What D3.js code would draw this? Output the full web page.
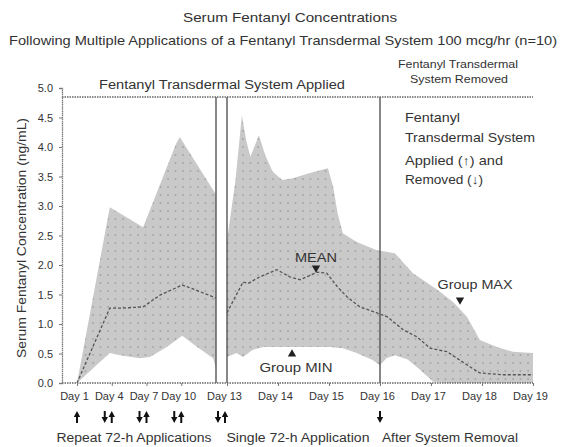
<!DOCTYPE html>
<html>
<head>
<meta charset="utf-8">
<script src="https://cdn.jsdelivr.net/npm/d3@7"></script>
<style>
  body { margin: 0; background: #fff; }
  svg { display: block; }
  text { font-family: "Liberation Sans Narrow", "Arial Narrow", "Liberation Sans", sans-serif; fill: #333; }
</style>
</head>
<body>
<svg id="chart" width="561" height="447"></svg>
<script>
// Hours since first application; Day 1 = 0 h
const dayLabels = ['Day 1', 'Day 4', 'Day 7', 'Day 10', 'Day 13', 'Day 14', 'Day 15', 'Day 16', 'Day 17', 'Day 18', 'Day 19'];
const dayHours  = [0, 72, 144, 216, 288, 312, 336, 360, 384, 408, 432];
const yTicks = [0, 0.5, 1, 1.5, 2, 2.5, 3, 3.5, 4, 4.5, 5];

const applyHours  = [0, 72, 144, 216, 288];
const removeHours = [72, 144, 216, 288, 360];

// Repeat 72-h applications (Day 1 - Day 13), [hour, ng/mL]
const repeatMean = [[0, 0], [68, 1.27], [93, 1.27], [137, 1.29], [172, 1.49], [218, 1.66], [245, 1.58], [288, 1.44]];
const repeatMax  = [[0, 0], [68, 2.98], [137, 2.64], [205, 4.05], [213, 4.17], [222, 4.05], [286, 3.22], [288, 3.22]];
const repeatMin  = [[0, 0], [52, 0.39], [68, 0.51], [89, 0.47], [130, 0.42], [151, 0.44], [186, 0.61], [218, 0.80], [249, 0.61], [282, 0.42], [288, 0.25]];

// Single 72-h application and after removal (Day 13 - Day 19)
const singleMean = [[288, 1.19], [295.5, 1.71], [298, 1.69], [303.5, 1.80], [311.5, 1.92], [317.5, 1.80], [322.5, 1.75], [330.5, 1.88],
  [335, 1.86], [340, 1.63], [344.5, 1.46], [350.5, 1.29], [358.5, 1.19], [363.5, 1.12], [371, 0.90], [377.5, 0.78], [383.5, 0.59],
  [391.5, 0.53], [397.5, 0.39], [402.5, 0.27], [407, 0.17], [418, 0.14], [432, 0.14]];
const singleMax  = [[288, 2.41], [292, 3.44], [295, 4.54], [297, 4.12], [299, 3.83], [303, 4.20], [306, 3.86], [309.5, 3.58],
  [314, 3.44], [319, 3.47], [327, 3.56], [335.5, 3.64], [338, 3.32], [340, 2.88], [342.5, 2.54], [349, 2.39], [358.5, 2.25],
  [367, 2.20], [375.5, 1.86], [387, 1.58], [394.5, 1.37], [401, 1.12], [407, 0.73], [415, 0.61], [422.5, 0.53], [432, 0.51]];
const singleMin  = [[288, 0.44], [292.5, 0.51], [295.5, 0.44], [300, 0.56], [305, 0.61], [317.5, 0.61], [336.5, 0.61], [342.5, 0.59],
  [349, 0.51], [356.5, 0.39], [360, 0.30], [363, 0.42], [367, 0.47], [373, 0.40], [379, 0.22], [385, 0.02], [390, 0], [432, 0]];

const svg = d3.select('#chart');
const W = 561, H = 447;

// two panels share the Day 13 break
const xA = d3.scaleLinear().domain([0, 288]).range([77, 216]);
const xB = d3.scaleLinear().domain([288, 432]).range([227, 533]);
const y = d3.scaleLinear().domain([0, 5]).range([383, 88]);
const plotLeft = 62, plotRight = 533, plotTop = 97;

svg.append('rect').attr('width', W).attr('height', H).attr('fill', '#fff');

// dotted grey fill
const defs = svg.append('defs');
const pat = defs.append('pattern').attr('id', 'dots')
    .attr('patternUnits', 'userSpaceOnUse').attr('width', 7.5).attr('height', 8);
pat.append('rect').attr('width', 7.5).attr('height', 8).attr('fill', '#c9c9c9');
pat.append('circle').attr('cx', 3).attr('cy', 3).attr('r', 0.75).attr('fill', '#888');

function band(x, maxS, minS) {
    const line = d3.line().x(d => x(d[0])).y(d => y(d[1]));
    return line(maxS.concat(minS.slice().reverse())) + 'Z';
}

svg.append('path').attr('d', band(xA, repeatMax, repeatMin)).attr('fill', 'url(#dots)');
svg.append('path').attr('d', band(xB, singleMax, singleMin)).attr('fill', 'url(#dots)');

const meanLine = x => d3.line().x(d => x(d[0])).y(d => y(d[1]));
[[xA, repeatMean], [xB, singleMean]].forEach(([x, s]) => {
    svg.append('path').attr('d', meanLine(x)(s))
        .attr('fill', 'none').attr('stroke', '#555').attr('stroke-width', 1.3)
        .attr('stroke-dasharray', '3,2');
});

// frame lines
const dotted = sel => sel.attr('stroke', '#666').attr('stroke-width', 1.3).attr('stroke-dasharray', '1.5,1');
dotted(svg.append('line').attr('x1', plotLeft).attr('x2', plotRight).attr('y1', plotTop).attr('y2', plotTop));
dotted(svg.append('line').attr('x1', plotLeft).attr('x2', plotRight).attr('y1', y(0)).attr('y2', y(0)));
[xA(288), xB(288), xB(360)].forEach(px => {
    svg.append('line').attr('x1', px).attr('x2', px).attr('y1', plotTop).attr('y2', y(0))
        .attr('stroke', '#555').attr('stroke-width', 1.4);
});

// y axis
const yAxis = svg.append('g').attr('transform', `translate(${plotLeft},0)`)
    .call(d3.axisLeft(y).tickValues(yTicks).tickFormat(d3.format('.1f')).tickSize(3).tickPadding(6));
yAxis.select('.domain').attr('stroke', '#777').attr('stroke-width', 1.3).attr('stroke-dasharray', '1.5,0.6');
yAxis.selectAll('.tick line').attr('stroke', '#777');
yAxis.selectAll('text').attr('font-size', 11).attr('fill', '#555')
    .style('font-family', '"Liberation Sans Narrow", "Liberation Sans", sans-serif');

// x axes
const labelOf = h => dayLabels[dayHours.indexOf(h)];
[[xA, dayHours.filter(h => h < 288)], [xB, dayHours.filter(h => h >= 288)]].forEach(([x, vals]) => {
    const g = svg.append('g').attr('transform', `translate(0,${y(0)})`)
        .call(d3.axisBottom(x).tickValues(vals).tickFormat(labelOf).tickSize(3).tickPadding(6));
    g.select('.domain').remove();
    g.selectAll('.tick line').attr('stroke', '#777');
    g.selectAll('text').attr('font-size', 11).attr('fill', '#333').attr('dx', -3)
        .style('font-family', '"Liberation Sans Narrow", "Liberation Sans", sans-serif');
});

// application / removal arrows
const arrowX = h => h < 288 ? xA(h) : (h === 288 ? xB(h) - 2 : xB(h));
const arrowG = svg.append('g').attr('fill', '#111');
applyHours.forEach(h => {
    const ax = arrowX(h);
    arrowG.append('path').attr('d', `M${ax - 1},423 V417 H${ax - 3.2} L${ax},411 L${ax + 3.2},417 H${ax + 1} V423 Z`);
});
removeHours.forEach(h => {
    const ax = arrowX(h) - (h === 360 ? 0 : 7);
    arrowG.append('path').attr('d', `M${ax - 1},411 V417 H${ax - 3.2} L${ax},423 L${ax + 3.2},417 H${ax + 1} V411 Z`);
});

// texts
function txt(s, x0, y0, size, len, anchor) {
    const t = svg.append('text').attr('x', x0).attr('y', y0).attr('font-size', size)
        .attr('text-anchor', anchor || 'middle').text(s);
    if (len) t.attr('textLength', len).attr('lengthAdjust', 'spacingAndGlyphs');
    return t;
}

txt('Serum Fentanyl Concentrations', 290, 22, 13, 214);
txt('Following Multiple Applications of a Fentanyl Transdermal System 100 mcg/hr (n=10)', 283, 45, 13, 548);
txt('Fentanyl Transdermal System Applied', 222, 89, 12.5, 246);
txt('Fentanyl Transdermal', 458, 68, 11, 120);
txt('System Removed', 459, 83, 11.5, 98);

txt('Fentanyl', 405, 122, 13, 55, 'start');
txt('Transdermal System', 405, 142, 13, 130, 'start');
txt('Applied (\u2191) and', 405, 165, 13, 98, 'start');
txt('Removed (\u2193)', 405, 184, 13, 78, 'start');

svg.append('text').attr('transform', 'translate(26,238) rotate(-90)')
    .attr('text-anchor', 'middle').attr('font-size', 12)
    .attr('textLength', 240).attr('lengthAdjust', 'spacingAndGlyphs')
    .text('Serum Fentanyl Concentration (ng/mL)');

txt('Repeat 72-h Applications', 134, 442, 12.5, 155);
txt('Single 72-h Application', 298, 442, 12.5, 143);
txt('After System Removal', 450, 442, 12.5, 136);

// series callouts
txt('MEAN', 316, 262, 12, 42);
txt('Group MIN', 296, 372, 12, 73);
txt('Group MAX', 475, 289, 12, 75);
const tri = d3.symbol().type(d3.symbolTriangle).size(30);
svg.append('path').attr('d', tri()).attr('fill', '#222').attr('transform', 'translate(316,268) rotate(180)');
svg.append('path').attr('d', tri()).attr('fill', '#222').attr('transform', 'translate(292,354)');
svg.append('path').attr('d', tri()).attr('fill', '#222').attr('transform', 'translate(460,300) rotate(180)');
</script>
</body>
</html>
